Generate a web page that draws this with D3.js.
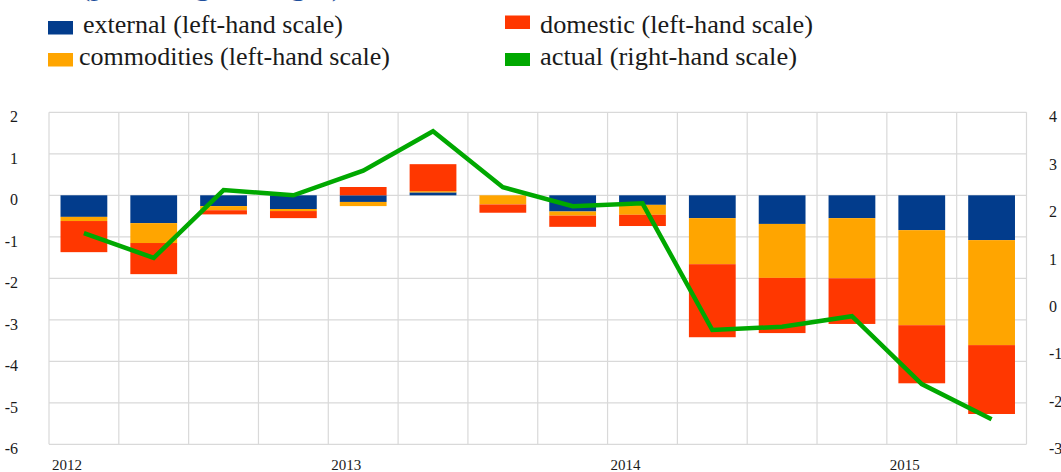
<!DOCTYPE html>
<html>
<head>
<meta charset="utf-8">
<script src="https://cdn.jsdelivr.net/npm/d3@7"></script>
<style>
  html, body { margin: 0; padding: 0; background: #fff; }
  svg { display: block; }
  text { font-family: "Liberation Serif", "DejaVu Serif", serif; fill: #1a1a1a; }
</style>
</head>
<body>
<svg id="chart" width="1061" height="472"></svg>
<script>
// ---- data ----
const quarters = ["2012Q1","2012Q2","2012Q3","2012Q4","2013Q1","2013Q2","2013Q3","2013Q4",
                  "2014Q1","2014Q2","2014Q3","2014Q4","2015Q1","2015Q2"];
const external    = [-0.52,-0.67,-0.26,-0.33,-0.16, 0.07, 0.00,-0.39,-0.23,-0.55,-0.69,-0.55,-0.84,-1.08];
const commodities = [-0.10,-0.48,-0.10,-0.05,-0.10, 0.03,-0.22,-0.10,-0.24,-1.11,-1.30,-1.45,-2.29,-2.53];
const domestic    = [-0.75,-0.75,-0.10,-0.17, 0.20, 0.65,-0.20,-0.27,-0.27,-1.76,-1.33,-1.10,-1.40,-1.66];
const actual      = [1.45, 0.93, 2.36, 2.25, 2.77, 3.60, 2.42, 2.02, 2.08,-0.59,-0.52,-0.30,-1.73,-2.47];
const leftTicks   = [2,1,0,-1,-2,-3,-4,-5,-6];
const rightTicks  = [4,3,2,1,0,-1,-2,-3];
const yearLabels  = [{q:"2012Q1", label:"2012"},{q:"2013Q1", label:"2013"},{q:"2014Q1", label:"2014"},{q:"2015Q1", label:"2015"}];
const seriesNames = ["external","commodities","domestic"];
const legendItems = [
  {key:"external",    label:"external (left-hand scale)"},
  {key:"domestic",    label:"domestic (left-hand scale)"},
  {key:"commodities", label:"commodities (left-hand scale)"},
  {key:"actual",      label:"actual (right-hand scale)"}
];
const titleText = "(percentage changes)";

// ---- styles ----
const colors = {external:"#023c8c", commodities:"#ffa500", domestic:"#ff3700", actual:"#00a800"};
const gridColor = "#d9d9d9";

const svg = d3.select("#chart");
const plot = {left:49, right:1026.5, top:112.3, bottom:444.3};

const x = d3.scaleBand().domain(quarters).range([plot.left, plot.right]).paddingInner(0.33).paddingOuter(0.165);
const xGrid = d3.scaleBand().domain(quarters).range([plot.left, plot.right]).padding(0);
const yL = d3.scaleLinear().domain([-6, 2]).range([plot.bottom, plot.top]);
const yR = d3.scaleLinear().domain([-3, 4]).range([plot.bottom, plot.top]);

// title (cut off at the top, as in the source)
svg.append("text").attr("x", 80).attr("y", -4)
  .attr("font-size", 25).attr("textLength", 262).attr("lengthAdjust", "spacingAndGlyphs")
  .style("fill", "#1f4e9c").text(titleText);

// legend
const legPos = {
  external:    {sx:48,  sy:21,   sw:25, sh:13.5, tx:83,  ty:33, w:260},
  domestic:    {sx:505, sy:15.5, sw:25, sh:13.5, tx:540, ty:33, w:273},
  commodities: {sx:48,  sy:53,   sw:25, sh:13.5, tx:79,  ty:65, w:311},
  actual:      {sx:505, sy:53,   sw:25, sh:13,   tx:540, ty:65, w:257}
};
const leg = svg.append("g");
legendItems.forEach(d => {
  const p = legPos[d.key];
  leg.append("rect").attr("x", p.sx).attr("y", p.sy).attr("width", p.sw).attr("height", p.sh).attr("fill", colors[d.key]);
  leg.append("text").attr("x", p.tx).attr("y", p.ty).attr("font-size", 25)
    .attr("textLength", p.w).attr("lengthAdjust", "spacingAndGlyphs").text(d.label);
});

// grid
const g = svg.append("g");
g.selectAll("line.h").data(leftTicks).join("line")
  .attr("x1", plot.left).attr("x2", plot.right)
  .attr("y1", d => yL(d)).attr("y2", d => yL(d))
  .attr("stroke", gridColor).attr("stroke-width", 1.2);
const vlines = quarters.map(q => xGrid(q)).concat([plot.right]);
g.selectAll("line.v").data(vlines).join("line")
  .attr("x1", d => d).attr("x2", d => d)
  .attr("y1", plot.top).attr("y2", plot.bottom)
  .attr("stroke", gridColor).attr("stroke-width", 1.2);

// stacked bars
const table = quarters.map((q, i) => ({q, external: external[i], commodities: commodities[i], domestic: domestic[i]}));
const stacked = d3.stack().keys(seriesNames).offset(d3.stackOffsetDiverging)(table);
svg.append("g").selectAll("g").data(stacked).join("g")
  .attr("fill", d => colors[d.key])
  .selectAll("rect").data(d => d).join("rect")
  .attr("x", d => x(d.data.q))
  .attr("width", x.bandwidth())
  .attr("y", d => yL(Math.max(d[0], d[1])))
  .attr("height", d => Math.abs(yL(d[0]) - yL(d[1])));

// actual line
const line = d3.line().x((d, i) => x(quarters[i]) + x.bandwidth() / 2).y(d => yR(d));
svg.append("path").datum(actual).attr("d", line)
  .attr("fill", "none").attr("stroke", colors.actual).attr("stroke-width", 4.5)
  .attr("stroke-linejoin", "miter");

// left axis labels
svg.append("g").selectAll("text").data(leftTicks).join("text")
  .attr("x", 18).attr("y", d => yL(d) + 10)
  .attr("text-anchor", "end").attr("font-size", 16).text(d => d);

// right axis labels
svg.append("g").selectAll("text").data(rightTicks).join("text")
  .attr("x", 1049).attr("y", d => yR(d) + 10)
  .attr("text-anchor", "start").attr("font-size", 16).text(d => d);

// year labels
svg.append("g").selectAll("text").data(yearLabels).join("text")
  .attr("x", d => xGrid(d.q) + 3).attr("y", 470)
  .attr("font-size", 15).text(d => d.label);
</script>
</body>
</html>
